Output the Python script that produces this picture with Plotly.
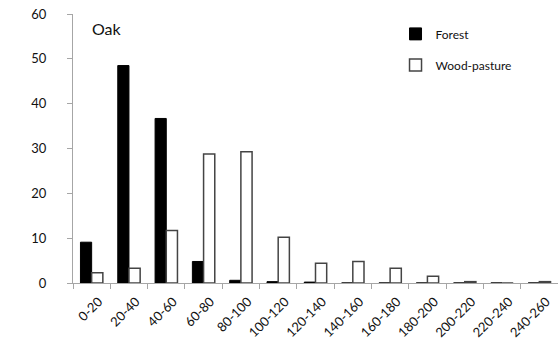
import plotly.graph_objects as go

categories = ["0-20", "20-40", "40-60", "60-80", "80-100", "100-120", "120-140",
              "140-160", "160-180", "180-200", "200-220", "220-240", "240-260"]
forest = [9.1, 48.5, 36.7, 4.8, 0.6, 0.3, 0.2, 0, 0, 0, 0, 0, 0]
wood_pasture = [2.3, 3.3, 11.7, 28.8, 29.3, 10.2, 4.4, 4.8, 3.3, 1.5, 0.3, 0, 0.3]
y_ticks = [0, 10, 20, 30, 40, 50, 60]

fam = "Lato, 'Open Sans', sans-serif"
font = dict(family=fam, size=13, color="#111")

fig = go.Figure()
fig.add_trace(go.Bar(x=categories, y=forest, name="Forest", legendgroup="f",
                     marker=dict(color="black", line=dict(color="black", width=1))))
fig.add_trace(go.Bar(x=categories, y=wood_pasture, name="Wood-pasture", legendgroup="w",
                     marker=dict(color="white", line=dict(color="#444", width=1.5))))

fig.update_layout(
    width=558, height=359,
    margin=dict(l=73, r=0, t=14, b=76),
    paper_bgcolor="white", plot_bgcolor="white",
    font=font,
    barmode="group", bargap=0.4, bargroupgap=0,
    showlegend=True,
    legend=dict(x=0.665, y=0.98, xanchor="left", yanchor="top",
                bgcolor="rgba(0,0,0,0)", tracegroupgap=12,
                font=dict(family=fam, size=12, color="#111")),
    annotations=[dict(text="Oak", x=0.035, y=0.99, xref="paper", yref="paper",
                      xanchor="left", yanchor="top", showarrow=False,
                      font=dict(family=fam, size=16, color="#111"))],
)
fig.update_xaxes(type="category", tickangle=-45, showline=True, linecolor="#a6a6a6",
                 linewidth=1, ticks="outside", tickson="boundaries", ticklen=5,
                 tickcolor="#a6a6a6", showgrid=False, zeroline=False,
                 ticklabelshift=7, ticklabelstandoff=5,
                 tickfont=dict(family=fam, size=13, color="#111"))
fig.update_yaxes(range=[0, 60], tickvals=y_ticks, showline=True, linecolor="#a6a6a6",
                 linewidth=1, ticks="outside", ticklen=5, tickcolor="#a6a6a6",
                 showgrid=False, zeroline=False, ticklabelstandoff=18,
                 tickfont=dict(family=fam, size=13, color="#111"))

fig.write_html("out.html")
